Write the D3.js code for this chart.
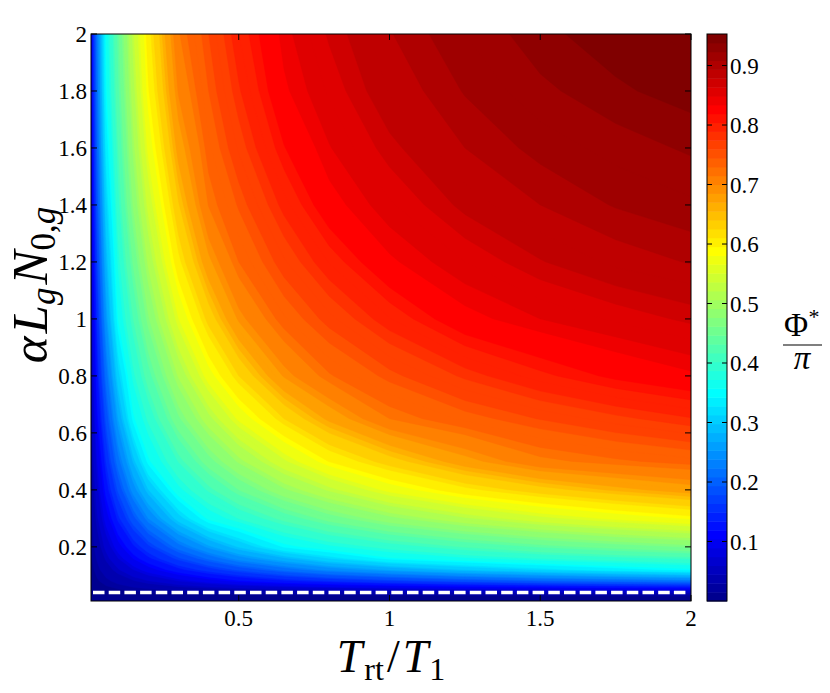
<!DOCTYPE html>
<html>
<head>
<meta charset="utf-8">
<script src="https://cdn.jsdelivr.net/npm/d3@7"></script>
<style>
  body { margin: 0; background: #fff; }
</style>
</head>
<body>
<div id="chart"></div>
<script>
// grid of T_rt/T_1 values (columns)
const xValues = [0.01, 0.03, 0.06, 0.1, 0.15, 0.2, 0.3, 0.4, 0.5, 0.65, 0.8, 1.0, 1.25, 1.5, 1.75, 2.0];
// grid of alpha L_g N_0,g values (rows)
const yValues = [0.01, 0.03, 0.05, 0.08, 0.12, 0.16, 0.2, 0.3, 0.4, 0.5, 0.65, 0.8, 1.0, 1.2, 1.4, 1.6, 1.8, 2.0];
// Phi*/pi, one row per yValues entry
const phiRows = [
  [0.002,0.002,0.003,0.003,0.004,0.004,0.004,0.005,0.005,0.005,0.005,0.006,0.006,0.006,0.006,0.006],
  [0.004,0.006,0.008,0.010,0.012,0.013,0.015,0.016,0.017,0.018,0.019,0.020,0.021,0.022,0.022,0.023],
  [0.011,0.013,0.015,0.019,0.023,0.027,0.034,0.041,0.047,0.055,0.062,0.070,0.079,0.086,0.092,0.096],
  [0.013,0.018,0.026,0.036,0.048,0.059,0.080,0.099,0.116,0.135,0.150,0.168,0.186,0.202,0.214,0.224],
  [0.015,0.025,0.040,0.058,0.080,0.100,0.134,0.160,0.184,0.217,0.246,0.272,0.300,0.322,0.341,0.356],
  [0.018,0.032,0.053,0.080,0.111,0.136,0.177,0.215,0.250,0.287,0.321,0.358,0.377,0.392,0.404,0.414],
  [0.020,0.039,0.066,0.101,0.136,0.165,0.220,0.265,0.302,0.352,0.375,0.398,0.422,0.442,0.458,0.472],
  [0.026,0.056,0.099,0.145,0.193,0.240,0.310,0.365,0.391,0.427,0.459,0.494,0.527,0.554,0.575,0.593],
  [0.032,0.072,0.128,0.183,0.249,0.299,0.374,0.413,0.450,0.496,0.533,0.576,0.614,0.641,0.663,0.680],
  [0.037,0.088,0.151,0.221,0.292,0.356,0.411,0.461,0.503,0.556,0.601,0.640,0.682,0.715,0.727,0.736],
  [0.046,0.112,0.185,0.270,0.356,0.394,0.466,0.523,0.574,0.630,0.675,0.720,0.743,0.761,0.776,0.789],
  [0.053,0.131,0.217,0.312,0.385,0.431,0.512,0.580,0.630,0.692,0.728,0.755,0.783,0.806,0.824,0.837],
  [0.063,0.151,0.256,0.361,0.420,0.477,0.569,0.637,0.693,0.738,0.766,0.799,0.834,0.850,0.862,0.873],
  [0.072,0.171,0.286,0.383,0.453,0.514,0.614,0.685,0.730,0.768,0.801,0.837,0.860,0.879,0.893,0.901],
  [0.080,0.188,0.313,0.403,0.482,0.546,0.648,0.721,0.752,0.795,0.833,0.858,0.884,0.900,0.911,0.918],
  [0.087,0.203,0.336,0.420,0.504,0.575,0.678,0.737,0.772,0.819,0.849,0.876,0.900,0.914,0.924,0.932],
  [0.093,0.216,0.356,0.435,0.522,0.598,0.702,0.750,0.788,0.837,0.862,0.891,0.911,0.927,0.938,0.945],
  [0.098,0.226,0.363,0.446,0.536,0.611,0.718,0.760,0.800,0.845,0.872,0.899,0.920,0.937,0.946,0.953]
];
const xTicks = [0.5, 1, 1.5, 2];
const yTicks = [0.2, 0.4, 0.6, 0.8, 1, 1.2, 1.4, 1.6, 1.8, 2];
const cbTicks = [0.1, 0.2, 0.3, 0.4, 0.5, 0.6, 0.7, 0.8, 0.9];
const thresholdY = 0.04;   // dashed white line
const colorMin = 0, colorMax = 0.953;

const width = 830, height = 693;
const plotLeft = 91, plotRight = 691, plotTop = 34, plotBottom = 601;
const cbLeft = 707, cbRight = 727;
const tick = 6;
const serif = "'Liberation Serif', 'Times New Roman', Times, 'DejaVu Serif', serif";

// MATLAB style jet(64)
function jet64() {
  const n = 16, u = [];
  for (let i = 1; i <= n; i++) u.push(i / n);
  for (let i = 1; i < n; i++) u.push(1);
  for (let i = n; i >= 1; i--) u.push(i / n);
  const at = k => (k >= 1 && k <= u.length ? u[k - 1] : 0);
  const out = [];
  for (let k = 1; k <= 64; k++) {
    out.push(d3.rgb(255 * at(k - 24), 255 * at(k - 8), 255 * at(k + 8)).formatHex());
  }
  return out;
}
const jet = jet64();
const color = d3.scaleQuantize().domain([colorMin, colorMax]).range(jet);

const x = d3.scaleLinear().domain([0.01, 2]).range([plotLeft, plotRight]);
const y = d3.scaleLinear().domain([0.01, 2]).range([plotBottom, plotTop]);

const svg = d3.select("#chart").append("svg")
  .attr("width", width).attr("height", height)
  .attr("font-family", serif);

svg.append("clipPath").attr("id", "plotClip")
  .append("rect").attr("x", plotLeft).attr("y", plotTop)
  .attr("width", plotRight - plotLeft).attr("height", plotBottom - plotTop);

// Filled contours
const nx = xValues.length, ny = yValues.length;
const values = phiRows.flat();
const levels = d3.range(0, 0.96, 0.01);
const contours = d3.contours().size([nx, ny]).thresholds(levels)(values);

const xIdx = d3.scaleLinear().domain(d3.range(nx)).range(xValues).clamp(true);
const yIdx = d3.scaleLinear().domain(d3.range(ny)).range(yValues).clamp(true);
const proj = d3.geoTransform({
  point(px, py) { this.stream.point(x(xIdx(px - 0.5)), y(yIdx(py - 0.5))); }
});
const path = d3.geoPath(proj);

svg.append("g").attr("clip-path", "url(#plotClip)")
  .selectAll("path")
  .data(contours)
  .join("path")
  .attr("d", path)
  .attr("fill", d => color(Math.min(d.value + 0.0001, colorMax)))
  .attr("stroke", d => color(Math.min(d.value + 0.0001, colorMax)))
  .attr("stroke-width", 0.4);

// dashed threshold line
svg.append("line")
  .attr("x1", plotLeft + 2).attr("x2", plotRight - 2)
  .attr("y1", y(thresholdY)).attr("y2", y(thresholdY))
  .attr("stroke", "#fff").attr("stroke-width", 3.5)
  .attr("stroke-dasharray", "11.5,4.2");

// axes box and inside ticks
const ax = svg.append("g").attr("stroke", "#000").attr("stroke-width", 1).attr("fill", "none");
ax.append("rect").attr("x", plotLeft).attr("y", plotTop)
  .attr("width", plotRight - plotLeft).attr("height", plotBottom - plotTop);
xTicks.forEach(t => {
  ax.append("line").attr("x1", x(t)).attr("x2", x(t)).attr("y1", plotBottom).attr("y2", plotBottom - tick);
  ax.append("line").attr("x1", x(t)).attr("x2", x(t)).attr("y1", plotTop).attr("y2", plotTop + tick);
});
yTicks.forEach(t => {
  ax.append("line").attr("x1", plotLeft).attr("x2", plotLeft + tick).attr("y1", y(t)).attr("y2", y(t));
  ax.append("line").attr("x1", plotRight).attr("x2", plotRight - tick).attr("y1", y(t)).attr("y2", y(t));
});

svg.append("g").selectAll("text").data(xTicks).join("text")
  .attr("x", d => x(d)).attr("y", 626)
  .attr("text-anchor", "middle").attr("font-size", 23)
  .text(d => d);
svg.append("g").selectAll("text").data(yTicks).join("text")
  .attr("x", 87).attr("y", d => y(d) + 8)
  .attr("text-anchor", "end").attr("font-size", 23)
  .text(d => d);

// Colorbar
const cb = d3.scaleLinear().domain([colorMin, colorMax]).range([plotBottom, plotTop]);
const step = (colorMax - colorMin) / jet.length;
svg.append("g").selectAll("rect").data(jet).join("rect")
  .attr("x", cbLeft).attr("width", cbRight - cbLeft)
  .attr("y", (d, i) => cb(colorMin + (i + 1) * step))
  .attr("height", (d, i) => cb(colorMin + i * step) - cb(colorMin + (i + 1) * step) + 0.5)
  .attr("fill", d => d);
const cbAx = svg.append("g").attr("stroke", "#000").attr("stroke-width", 1).attr("fill", "none");
cbAx.append("rect").attr("x", cbLeft).attr("y", plotTop)
  .attr("width", cbRight - cbLeft).attr("height", plotBottom - plotTop);
cbTicks.forEach(t => {
  cbAx.append("line").attr("x1", cbLeft).attr("x2", cbLeft + 5).attr("y1", cb(t)).attr("y2", cb(t));
  cbAx.append("line").attr("x1", cbRight).attr("x2", cbRight - 5).attr("y1", cb(t)).attr("y2", cb(t));
});
svg.append("g").selectAll("text").data(cbTicks).join("text")
  .attr("x", 730).attr("y", d => cb(d) + 8)
  .attr("font-size", 23)
  .text(d => d);

// x label: T_rt / T_1
const xl = svg.append("text").attr("x", 391).attr("y", 672)
  .attr("text-anchor", "middle").attr("font-size", 46);
xl.append("tspan").attr("font-style", "italic").text("T");
xl.append("tspan").attr("font-size", 32).attr("dx", 2).attr("dy", 8).text("rt");
xl.append("tspan").attr("dx", 3).attr("dy", -8).text("/");
xl.append("tspan").attr("font-style", "italic").attr("dx", 3).text("T");
xl.append("tspan").attr("font-size", 32).attr("dx", 1).attr("dy", 8).text("1");

// y label: alpha L_g N_0,g
const yl = svg.append("text").attr("transform", "translate(47,285) rotate(-90)")
  .attr("text-anchor", "middle").attr("font-size", 51);
yl.append("tspan").attr("font-style", "italic").text("α");
yl.append("tspan").attr("font-style", "italic").attr("dx", 3).text("L");
yl.append("tspan").attr("font-style", "italic").attr("font-size", 35).attr("dy", 8).text("g");
yl.append("tspan").attr("font-style", "italic").attr("dx", 3).attr("dy", -8).text("N");
yl.append("tspan").attr("font-size", 35).attr("dy", 8).text("0,");
yl.append("tspan").attr("font-style", "italic").attr("font-size", 35).text("g");

// colorbar label: Phi* / pi
svg.append("text").attr("x", 796).attr("y", 336).attr("text-anchor", "middle")
  .attr("font-size", 33).text("Φ");
svg.append("text").attr("x", 814).attr("y", 324).attr("text-anchor", "middle")
  .attr("font-size", 22).text("*");
svg.append("line").attr("x1", 783).attr("x2", 822).attr("y1", 345).attr("y2", 345)
  .attr("stroke", "#000").attr("stroke-width", 1.2);
svg.append("text").attr("x", 802).attr("y", 369).attr("text-anchor", "middle")
  .attr("font-size", 33).attr("font-style", "italic").text("π");
</script>
</body>
</html>
